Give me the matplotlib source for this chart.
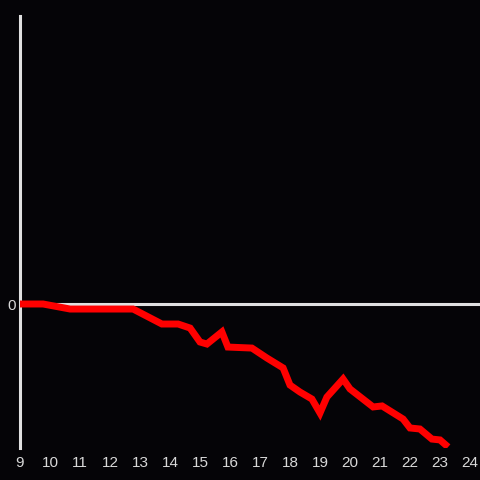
import matplotlib
matplotlib.use("Agg")
import matplotlib.pyplot as plt

hours = [9.0, 9.77, 10.67, 12.77, 13.73, 14.27, 14.67, 15.0, 15.23, 15.73, 15.93,
         16.73, 17.23, 17.77, 18.0, 18.33, 18.73, 19.0, 19.23, 19.77, 20.0,
         20.77, 21.07, 21.77, 22.0, 22.33, 22.73, 23.0, 23.27]
values = [0, 0, -0.035, -0.035, -0.139, -0.139, -0.167, -0.264, -0.278, -0.194, -0.299,
          -0.306, -0.375, -0.444, -0.563, -0.611, -0.660, -0.757, -0.646, -0.521, -0.590,
          -0.715, -0.708, -0.799, -0.861, -0.868, -0.938, -0.944, -0.993]
xticks = list(range(9, 25))
yticks = [0]

bg = "#050407"
fg = "#e0e0e0"
txt = "#d8d8d8"

fig = plt.figure(figsize=(4.8, 4.8), dpi=100, facecolor=bg)
ax = fig.add_axes([20/480, 32/480, 460/480, 432/480], facecolor=bg)

ax.axhline(0, color=fg, lw=2.2, zorder=1)
ax.plot(hours, values, color="#ff0000", lw=5, solid_joinstyle="miter",
        solid_capstyle="butt", zorder=3)

ax.set_xlim(9, 9 + 460/30)
ax.set_ylim(-1, 2)
ax.set_xticks(xticks)
ax.set_xticklabels([str(t) for t in xticks])
ax.set_yticks(yticks)
ax.set_yticklabels([str(t) for t in yticks])
ax.tick_params(axis="both", length=0, colors=txt, labelsize=11)
ax.tick_params(axis="x", pad=6)
ax.tick_params(axis="y", pad=3)
for lab in ax.get_xticklabels() + ax.get_yticklabels():
    lab.set_fontfamily("Liberation Sans")

for s in ["top", "right", "bottom"]:
    ax.spines[s].set_visible(False)
ax.spines["left"].set_color(fg)
ax.spines["left"].set_linewidth(2.2)

fig.savefig("out.png", dpi=100, facecolor=bg)
